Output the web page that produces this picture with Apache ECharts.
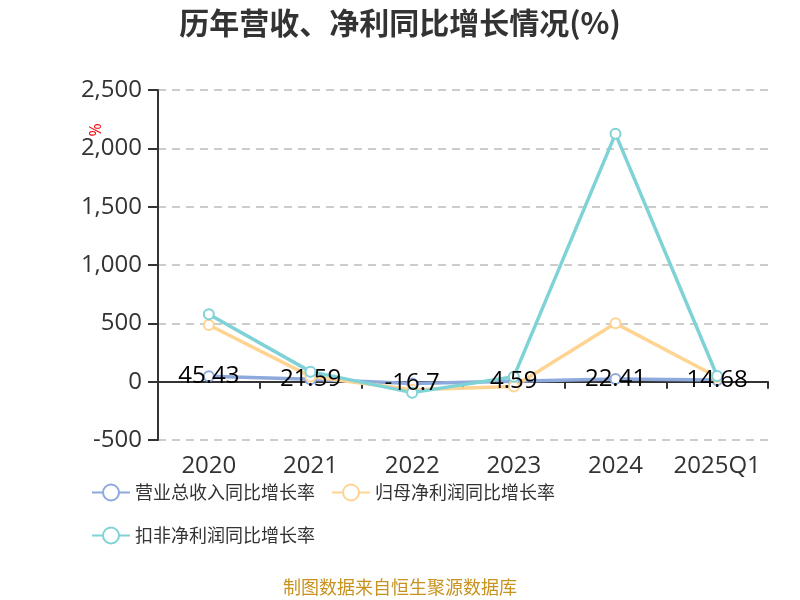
<!DOCTYPE html>
<html><head><meta charset="utf-8">
<script src="https://cdn.jsdelivr.net/npm/echarts@6/dist/echarts.min.js"></script>
<style>html,body{margin:0;padding:0;background:#fff}#c{width:800px;height:600px}</style>
</head><body><div id="c"></div>
<script>
var categories = ['2020','2021','2022','2023','2024','2025Q1'];
var revenueGrowth = [45.43, 21.59, -16.7, 4.59, 22.41, 14.68];
var netProfitGrowth = [486, 45, -70, -42, 500, 40];
var deductedProfitGrowth = [578, 86, -94, 43, 2124, 49];
var seriesNames = ['营业总收入同比增长率','归母净利润同比增长率','扣非净利润同比增长率'];
var colors = ['#8ea9dc','#ffd492','#7fd3d6'];

var chart = echarts.init(document.getElementById('c'));
var cjk = '"Noto Sans CJK SC", sans-serif';
var num = '"Open Sans", "Noto Sans CJK SC", sans-serif';
function mk(name, data, color, label) {
  return {
    name: name, type: 'line', data: data, symbol: 'emptyCircle', symbolSize: 10,
    lineStyle: {width: 3.5, color: color},
    itemStyle: {color: color, borderWidth: 2},
    label: label ? {show: true, position: 'inside', color: '#000', fontSize: 24, fontFamily: num} : {show: false}
  };
}
chart.setOption({
  animation: false,
  title: {text: '历年营收、净利同比增长情况(%)', left: 'center', top: 3,
    textStyle: {fontSize: 30, fontWeight: 'bold', color: '#333', fontFamily: cjk}},
  color: colors,
  legend: {left: 86, top: 474, width: 680, itemWidth: 38, itemHeight: 20, itemGap: 16,
    textStyle: {fontSize: 18, color: '#333', fontFamily: cjk, lineHeight: 27},
    data: seriesNames},
  grid: {left: 158, right: 32, top: 90, height: 350, containLabel: false},
  xAxis: {type: 'category', data: categories,
    axisLine: {lineStyle: {color: '#333', width: 2}},
    axisTick: {show: true, length: 7, lineStyle: {color: '#333', width: 2}},
    axisLabel: {fontSize: 24, color: '#333', margin: 14, interval: 0, fontFamily: num}},
  yAxis: {type: 'value', min: -500, max: 2500, interval: 500,
    axisLine: {show: true, lineStyle: {color: '#333', width: 2}},
    axisTick: {show: true, length: 10, lineStyle: {color: '#333', width: 2}},
    axisLabel: {fontSize: 24, color: '#333', margin: 16, fontFamily: num},
    splitLine: {lineStyle: {type: [8, 6], color: '#ccc', width: 2}}},
  graphic: [
    {type: 'text', x: 96, y: 130, rotation: Math.PI/2, style: {text: '%', fill: '#e00', font: '16px ' + num, align: 'center', verticalAlign: 'middle'}},
    {type: 'text', left: 'center', top: 578, style: {text: '制图数据来自恒生聚源数据库', fill: '#c8921e', font: '18px ' + cjk}}
  ],
  series: [
    mk(seriesNames[0], revenueGrowth, colors[0], true),
    mk(seriesNames[1], netProfitGrowth, colors[1], false),
    mk(seriesNames[2], deductedProfitGrowth, colors[2], false)
  ]
});
</script></body></html>
